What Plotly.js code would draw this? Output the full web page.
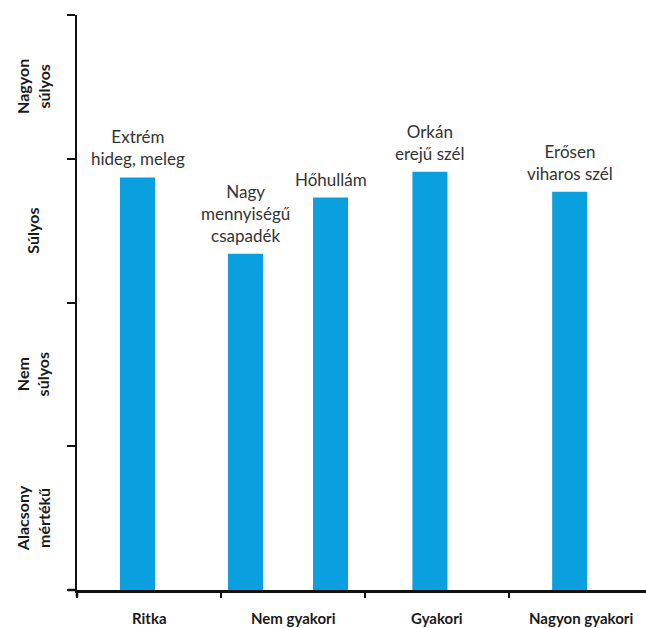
<!DOCTYPE html>
<html>
<head>
<meta charset="utf-8">
<script src="https://cdn.plot.ly/plotly-3.0.1.min.js"></script>
<style>html,body{margin:0;padding:0;background:#fff;}#chart{width:646px;height:628px;}</style>
</head>
<body>
<div id="chart"></div>
<script>
// Data
const frequencyCategories = ["Ritka", "Nem gyakori", "Gyakori", "Nagyon gyakori"];
const severityLevels = ["Alacsony<br>mértékű", "Nem<br>súlyos", "Súlyos", "Nagyon<br>súlyos"];
const eventLabels = ["Extrém<br>hideg, meleg", "Nagy<br>mennyiségű<br>csapadék", "Hőhullám", "Orkán<br>erejű szél", "Erősen<br>viharos szél"];
const eventFrequencyPos = [0.42, 1.17, 1.76, 2.45, 3.42];
const eventSeverity = [2.87, 2.34, 2.73, 2.91, 2.77];

const barColor = "#0a9fdf";
const labelFont = {family: "Lato, 'Open Sans', sans-serif", size: 17, color: "#333"};
const axisFont = {family: "Lato, 'Open Sans', sans-serif", size: 15, color: "#1a1a1a", weight: "bold"};
const sevFont = {family: "Lato, 'Open Sans', sans-serif", size: 16, color: "#1a1a1a", weight: "bold"};

const trace = {
  type: "bar",
  x: eventFrequencyPos,
  y: eventSeverity,
  width: 0.243,
  marker: {color: barColor, line: {width: 0}},
  hoverinfo: "skip"
};

const annotations = [];
eventLabels.forEach((t, i) => {
  annotations.push({
    x: eventFrequencyPos[i], y: eventSeverity[i], xref: "x", yref: "y",
    text: t, showarrow: false, yanchor: "bottom", xanchor: "center", align: "center",
    yshift: 6, font: labelFont
  });
});
frequencyCategories.forEach((t, i) => {
  annotations.push({
    x: i + 0.5, y: 0, xref: "x", yref: "paper", text: t, showarrow: false,
    yanchor: "top", xanchor: "center", yshift: -17, font: axisFont
  });
});
severityLevels.forEach((t, i) => {
  annotations.push({
    x: 0, y: i + 0.5, xref: "paper", yref: "y", text: t, showarrow: false,
    textangle: -90, xanchor: "center", yanchor: "middle", xshift: -44, align: "center",
    font: sevFont
  });
});

const layout = {
  width: 646, height: 628,
  margin: {l: 77, r: 0, t: 15, b: 38},
  paper_bgcolor: "#fff", plot_bgcolor: "#fff",
  showlegend: false,
  xaxis: {
    range: [0, 3.95], tickvals: [0, 1, 2, 3, 4], showticklabels: false,
    ticks: "outside", ticklen: 5, tickwidth: 2, tickcolor: "#111",
    showline: true, linecolor: "#111", linewidth: 2.5, showgrid: false, zeroline: false, fixedrange: true
  },
  yaxis: {
    range: [0, 4], tickvals: [0, 1, 2, 3, 4], showticklabels: false,
    ticks: "outside", ticklen: 8, tickwidth: 2, tickcolor: "#111",
    showline: true, linecolor: "#111", linewidth: 2.5, showgrid: false, zeroline: false, fixedrange: true
  },
  shapes: [
    {type: "line", xref: "paper", yref: "paper", x0: 0, x1: 0, y0: 0, y1: -0.012, line: {color: "#111", width: 2.5}},
    {type: "line", xref: "paper", yref: "paper", x0: 0, x1: -0.016, y0: 0, y1: 0, line: {color: "#111", width: 2.5}}
  ],
  annotations: annotations
};

Plotly.newPlot("chart", [trace], layout, {displayModeBar: false, staticPlot: true});
</script>
</body>
</html>
